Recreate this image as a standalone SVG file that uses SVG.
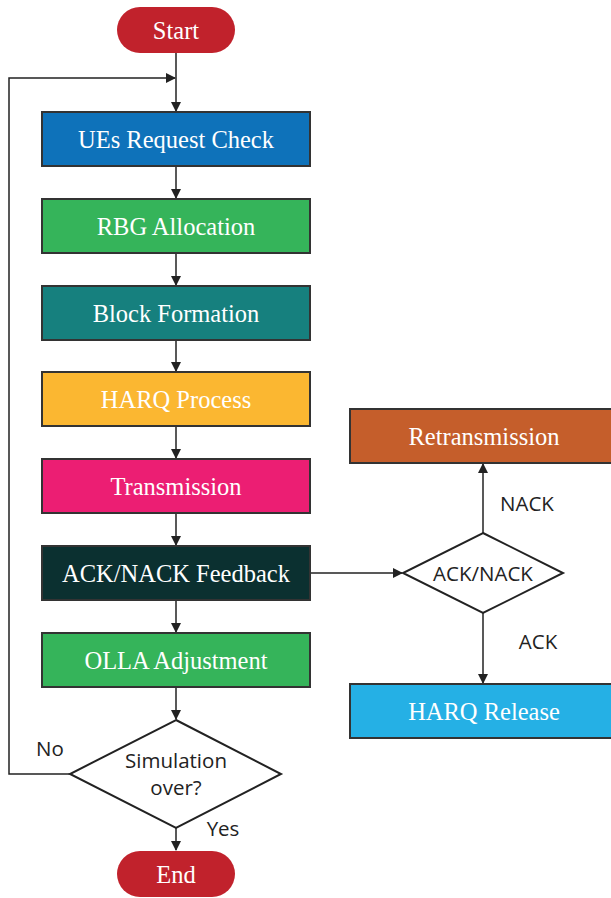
<svg xmlns="http://www.w3.org/2000/svg" width="611" height="898" viewBox="0 0 611 898">
<defs>
<marker id="ah" markerWidth="10" markerHeight="10" refX="9" refY="5" orient="auto" markerUnits="userSpaceOnUse">
<path d="M0,0 L10,5 L0,10 z" fill="#222"/>
</marker>
<style>
.box{stroke:#333;stroke-width:2}
.t{font-family:"Liberation Serif","DejaVu Serif",serif;font-size:24.5px;fill:#fff;text-anchor:middle;dominant-baseline:central}
.s{font-family:"Open Sans","Liberation Sans",sans-serif;font-size:20.5px;fill:#222;text-anchor:middle;dominant-baseline:central}
.c{stroke:#222;stroke-width:1.5;fill:none}
.d{fill:#fff;stroke:#222;stroke-width:2}
</style>
</defs>
<rect width="611" height="898" fill="#fff"/>
<g id="connectors">
<path class="c" d="M176,53 V111" marker-end="url(#ah)"/>
<path class="c" d="M70,774 H9 V78 H175" marker-end="url(#ah)"/>
<path class="c" d="M176,166 V198" marker-end="url(#ah)"/>
<path class="c" d="M176,253 V285" marker-end="url(#ah)"/>
<path class="c" d="M176,340 V371" marker-end="url(#ah)"/>
<path class="c" d="M176,426 V458" marker-end="url(#ah)"/>
<path class="c" d="M176,513 V545" marker-end="url(#ah)"/>
<path class="c" d="M176,600 V632" marker-end="url(#ah)"/>
<path class="c" d="M176,687 V719" marker-end="url(#ah)"/>
<path class="c" d="M176,828 V850" marker-end="url(#ah)"/>
<path class="c" d="M310,573 H402" marker-end="url(#ah)"/>
<path class="c" d="M483,533 V464" marker-end="url(#ah)"/>
<path class="c" d="M483,613 V683" marker-end="url(#ah)"/>
<text class="s" x="50" y="748">No</text>
<text class="s" x="223" y="828">Yes</text>
<text class="s" x="527" y="503">NACK</text>
<text class="s" x="538" y="641">ACK</text>
</g>
<g id="start"><rect x="117" y="7" width="118" height="46" rx="23" fill="#C1222C"/><text class="t" x="176" y="30">Start</text></g>
<g id="ues"><rect class="box" x="42" y="112" width="268" height="54" fill="#0E72BA"/><text class="t" x="176" y="139">UEs Request Check</text></g>
<g id="rbg"><rect class="box" x="42" y="199" width="268" height="54" fill="#35B45A"/><text class="t" x="176" y="226">RBG Allocation</text></g>
<g id="block"><rect class="box" x="42" y="286" width="268" height="54" fill="#16807E"/><text class="t" x="176" y="313">Block Formation</text></g>
<g id="harq"><rect class="box" x="42" y="372" width="268" height="54" fill="#FBB731"/><text class="t" x="176" y="399">HARQ Process</text></g>
<g id="tx"><rect class="box" x="42" y="459" width="268" height="54" fill="#EC1E73"/><text class="t" x="176" y="486">Transmission</text></g>
<g id="feedback"><rect class="box" x="42" y="546" width="268" height="54" fill="#0B3030"/><text class="t" x="176" y="573">ACK/NACK Feedback</text></g>
<g id="olla"><rect class="box" x="42" y="633" width="268" height="54" fill="#35B45A"/><text class="t" x="176" y="660">OLLA Adjustment</text></g>
<g id="sim"><polygon class="d" points="176,720 281,774 176,828 70,774"/><text class="s" x="176" y="760">Simulation</text><text class="s" x="176" y="787">over?</text></g>
<g id="end"><rect x="117" y="851" width="118" height="46" rx="23" fill="#C1222C"/><text class="t" x="176" y="874">End</text></g>
<g id="acknack"><polygon class="d" points="483,533 563,573 483,613 403,573"/><text class="s" x="483" y="573">ACK/NACK</text></g>
<g id="retx"><rect class="box" x="350" y="409" width="266" height="54" fill="#C55E2B"/><text class="t" x="484" y="436">Retransmission</text></g>
<g id="release"><rect class="box" x="350" y="684" width="266" height="54" fill="#25B0E5"/><text class="t" x="484" y="711">HARQ Release</text></g>
</svg>
